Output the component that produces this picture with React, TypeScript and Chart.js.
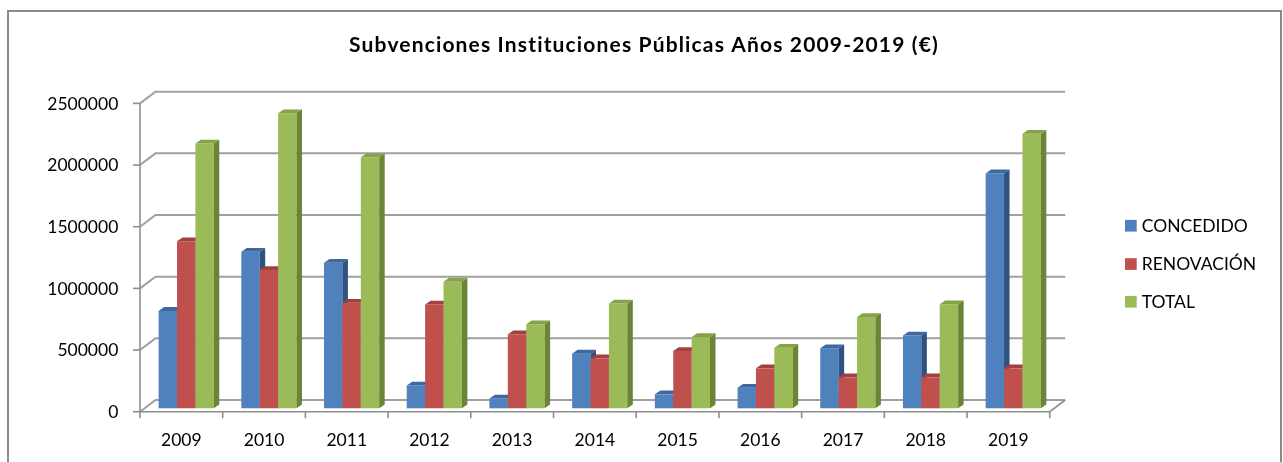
import React, { useEffect, useRef } from "react";
import { Chart, registerables } from "chart.js";

Chart.register(...registerables);

// ---------- data ----------
const YEARS = ["2009", "2010", "2011", "2012", "2013", "2014", "2015", "2016", "2017", "2018", "2019"];
const CONCEDIDO = [790000, 1270000, 1180000, 185000, 80000, 443000, 113000, 167000, 487000, 590000, 1905000];
const RENOVACION = [1355000, 1121000, 855000, 842000, 600000, 405000, 465000, 324000, 251000, 251000, 324000];
const TOTAL = [2147000, 2392000, 2035000, 1027000, 682000, 850000, 577000, 490000, 740000, 843000, 2226000];
const Y_TICKS = [0, 500000, 1000000, 1500000, 2000000, 2500000];
const SERIES_LABELS = ["CONCEDIDO", "RENOVACIÓN", "TOTAL"];
const TITLE = "Subvenciones Instituciones Públicas Años 2009-2019 (€)";

// ---------- styles ----------
const FRONT = ["#4F81BD", "#C0504D", "#9BBB59"];
const TOP = ["#3E68A0", "#A4403D", "#84A34A"];
const SIDE = ["#2F5283", "#8A3532", "#6B8537"];
const GRID = "#A0A0A0";
const AXIS = "#8E8E8E";
const FONT = "Lato, 'Open Sans', sans-serif";

// geometry of the oblique projection (relative to the bar plane = chart area)
const FRONT_DX = -4.85;
const FRONT_DY = 3.4;
const BACK_DX = 10.65;
const BACK_DY = -8.3;
const BAR_DX = 5.5;
const BAR_DY = -3.8;

const threeD = {
  id: "threeD",
  beforeDatasetsDraw(chart: any) {
    const ctx = chart.ctx as CanvasRenderingContext2D;
    const y = chart.scales.y;
    const x = chart.scales.x;
    const area = chart.chartArea;
    const frontLeft = area.left + FRONT_DX;
    const frontRight = area.right + FRONT_DX;
    const backLeft = area.left + BACK_DX;
    const backRight = area.right + BACK_DX;
    ctx.save();

    // title
    ctx.fillStyle = "#000";
    ctx.font = `bold 21px ${FONT}`;
    (ctx as any).letterSpacing = "1.15px";
    ctx.textAlign = "center";
    ctx.textBaseline = "alphabetic";
    ctx.fillText(TITLE, 644, 52.3);
    (ctx as any).letterSpacing = "0px";

    // back wall + side wall gridlines
    ctx.strokeStyle = GRID;
    ctx.lineWidth = 2;
    for (const v of Y_TICKS) {
      const py = y.getPixelForValue(v);
      ctx.beginPath();
      ctx.moveTo(frontLeft, py + FRONT_DY);
      ctx.lineTo(backLeft, py + BACK_DY);
      ctx.lineTo(backRight, py + BACK_DY);
      ctx.stroke();
    }

    // floor: front edge + right edge
    const zeroY = y.getPixelForValue(0);
    ctx.strokeStyle = AXIS;
    ctx.lineWidth = 1.6;
    ctx.beginPath();
    ctx.moveTo(frontLeft, zeroY + FRONT_DY);
    ctx.lineTo(frontRight, zeroY + FRONT_DY);
    ctx.lineTo(backRight, zeroY + BACK_DY);
    ctx.stroke();

    // vertical axis (front)
    const topY = y.getPixelForValue(Y_TICKS[Y_TICKS.length - 1]);
    ctx.beginPath();
    ctx.moveTo(frontLeft, topY + FRONT_DY);
    ctx.lineTo(frontLeft, zeroY + FRONT_DY);
    ctx.stroke();

    // y ticks + labels
    ctx.fillStyle = "#000";
    ctx.font = `17.5px ${FONT}`;
    ctx.textAlign = "right";
    for (const v of Y_TICKS) {
      const py = y.getPixelForValue(v) + FRONT_DY;
      ctx.beginPath();
      ctx.moveTo(frontLeft - 7, py);
      ctx.lineTo(frontLeft, py);
      ctx.stroke();
      ctx.fillText(String(v), frontLeft - 21.7, py + 6.3);
    }

    // x ticks + labels
    const n = YEARS.length;
    const cw = (area.right - area.left) / n;
    ctx.textAlign = "center";
    for (let i = 0; i <= n; i++) {
      const px = area.left + i * cw + FRONT_DX;
      ctx.beginPath();
      ctx.moveTo(px, zeroY + FRONT_DY);
      ctx.lineTo(px, zeroY + FRONT_DY + 6.5);
      ctx.stroke();
    }
    YEARS.forEach((lab, i) => {
      const px = x.getPixelForValue(i) + FRONT_DX;
      ctx.fillText(lab, px, zeroY + FRONT_DY + 34);
    });

    // legend
    ctx.textAlign = "left";
    ctx.font = `17.5px ${FONT}`;
    const legendY = [225.7, 264, 301.7];
    chart.data.datasets.forEach((ds: any, i: number) => {
      ctx.fillStyle = ds.backgroundColor;
      ctx.fillRect(1125, legendY[i] - 5.8, 11.7, 11.7);
      ctx.fillStyle = "#000";
      ctx.fillText(ds.label, 1141.7, legendY[i] + 6.3);
    });

    ctx.restore();
  },
  beforeDatasetDraw() {
    return false;
  },
  afterDatasetsDraw(chart: any) {
    const ctx = chart.ctx as CanvasRenderingContext2D;
    const metas = chart.data.datasets.map((_: any, i: number) => chart.getDatasetMeta(i));
    const n = YEARS.length;
    ctx.save();
    for (let c = 0; c < n; c++) {
      metas.forEach((meta: any, s: number) => {
        const el = meta.data[c];
        if (!el) return;
        el.draw(ctx);
        const p = el.getProps(["x", "y", "base", "width"], true);
        const l = p.x - p.width / 2;
        const r = p.x + p.width / 2;
        const t = p.y;
        const b = p.base;
        // top face
        ctx.fillStyle = TOP[s];
        ctx.beginPath();
        ctx.moveTo(l, t);
        ctx.lineTo(r, t);
        ctx.lineTo(r + BAR_DX, t + BAR_DY);
        ctx.lineTo(l + BAR_DX, t + BAR_DY);
        ctx.closePath();
        ctx.fill();
        // side face
        ctx.fillStyle = SIDE[s];
        ctx.beginPath();
        ctx.moveTo(r, t);
        ctx.lineTo(r + BAR_DX, t + BAR_DY);
        ctx.lineTo(r + BAR_DX, b + BAR_DY);
        ctx.lineTo(r, b);
        ctx.closePath();
        ctx.fill();
      });
    }
    ctx.restore();
  },
};

export default function App() {
  const ref = useRef<HTMLCanvasElement>(null);
  useEffect(() => {
    if (!ref.current) return;
    const chart = new Chart(ref.current, {
      type: "bar",
      data: {
        labels: YEARS,
        datasets: [
          { label: SERIES_LABELS[0], data: CONCEDIDO, backgroundColor: FRONT[0] },
          { label: SERIES_LABELS[1], data: RENOVACION, backgroundColor: FRONT[1] },
          { label: SERIES_LABELS[2], data: TOTAL, backgroundColor: FRONT[2] },
        ],
      },
      options: {
        responsive: false,
        animation: false,
        devicePixelRatio: 1,
        layout: { padding: { left: 144.85, right: 1283 - 1054.6, top: 100, bottom: 462 - 408.3 } },
        datasets: { bar: { categoryPercentage: 0.667, barPercentage: 1, borderWidth: 0, inflateAmount: 0 } },
        scales: {
          x: { display: false },
          y: { display: false, min: 0, max: 2500000 },
        },
        plugins: { legend: { display: false }, title: { display: false }, tooltip: { enabled: false } },
      },
      plugins: [threeD],
    });
    return () => chart.destroy();
  }, []);
  return (
    <div style={{ position: "fixed", left: 0, top: 0, width: 1283, height: 462, background: "#fff", overflow: "hidden" }}>
      <canvas ref={ref} width={1283} height={462} style={{ position: "absolute", left: 0, top: 0 }} />
      <div
        style={{
          position: "absolute",
          left: 7,
          top: 10,
          width: 1275,
          height: 470,
          border: "2px solid #8A8A8A",
          boxSizing: "border-box",
        }}
      />
    </div>
  );
}
